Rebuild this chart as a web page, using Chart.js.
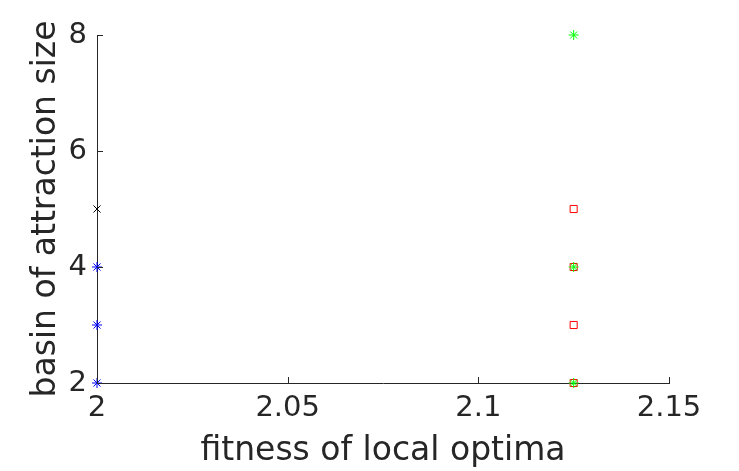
<!DOCTYPE html>
<html>
<head>
<meta charset="utf-8">
<script src="https://cdn.jsdelivr.net/npm/chart.js@4"></script>
<style>
  html, body { margin: 0; padding: 0; background: #fff; }
  #wrap { width: 739px; height: 471px; }
</style>
</head>
<body>
<div id="wrap"><canvas id="c" width="739" height="471"></canvas></div>
<script>
// values
const xTicks = [2, 2.05, 2.1, 2.15];
const yTicks = [2, 4, 6, 8];

const blackX = { x: [2], y: [5] };
const blueStar = { x: [2, 2, 2], y: [4, 3, 2] };
const redSquare = { x: [2.125, 2.125, 2.125, 2.125], y: [5, 4, 3, 2] };
const greenStar = { x: [2.125, 2.125, 2.125], y: [8, 4, 2] };

const axisColor = '#262626';

function toPoints(s) {
  return s.x.map((x, i) => ({ x: x, y: s.y[i] }));
}

// small inward tick marks like matlab draws them
const innerTicks = {
  id: 'innerTicks',
  afterDraw(chart) {
    const ctx = chart.ctx;
    const xs = chart.scales.x, ys = chart.scales.y;
    const a = chart.chartArea;
    ctx.save();
    ctx.strokeStyle = axisColor;
    ctx.lineWidth = 1;
    ctx.beginPath();
    xTicks.forEach(v => {
      const px = Math.round(xs.getPixelForValue(v)) + 0.5;
      ctx.moveTo(px, a.bottom);
      ctx.lineTo(px, a.bottom - 6);
    });
    yTicks.forEach(v => {
      const py = Math.round(ys.getPixelForValue(v)) + 0.5;
      ctx.moveTo(a.left, py);
      ctx.lineTo(a.left + 6, py);
    });
    ctx.stroke();
    ctx.restore();
  }
};

new Chart(document.getElementById('c'), {
  type: 'scatter',
  data: {
    datasets: [
      {
        label: 'green',
        data: toPoints(greenStar),
        pointStyle: 'star',
        pointRadius: 5,
        borderColor: '#00ff00',
        backgroundColor: 'transparent',
        pointBorderWidth: 1
      },
      {
        label: 'red',
        data: toPoints(redSquare),
        pointStyle: 'rect',
        pointRadius: 5,
        borderColor: '#ff0000',
        backgroundColor: 'transparent',
        pointBorderWidth: 1
      },
      {
        label: 'blue',
        data: toPoints(blueStar),
        pointStyle: 'star',
        pointRadius: 5,
        borderColor: '#0000ff',
        backgroundColor: 'transparent',
        pointBorderWidth: 1
      },
      {
        label: 'black',
        data: toPoints(blackX),
        pointStyle: 'crossRot',
        pointRadius: 5,
        borderColor: '#000000',
        backgroundColor: 'transparent',
        pointBorderWidth: 1
      }
    ]
  },
  options: {
    responsive: false,
    animation: false,
    clip: false,
    layout: { padding: { left: 0, right: 70, top: 35, bottom: 0 } },
    plugins: { legend: { display: false }, tooltip: { enabled: false } },
    scales: {
      x: {
        type: 'linear',
        min: 2,
        max: 2.15,
        afterBuildTicks: s => { s.ticks = xTicks.map(v => ({ value: v })); },
        afterFit: s => { s.height = 88; },
        grid: { display: true, drawOnChartArea: false, drawTicks: false, color: axisColor },
        border: { display: true, color: axisColor, width: 1 },
        ticks: {
          color: axisColor,
          padding: 8,
          font: { family: 'DejaVu Sans', size: 29 },
          maxRotation: 0,
          callback: v => String(v)
        },
        title: {
          display: true,
          text: 'fitness of local optima',
          color: axisColor,
          font: { family: 'DejaVu Sans', size: 33 },
          padding: { top: 0, bottom: 0 }
        }
      },
      y: {
        type: 'linear',
        min: 2,
        max: 8,
        afterBuildTicks: s => { s.ticks = yTicks.map(v => ({ value: v })); },
        afterFit: s => { s.width = 97; },
        grid: { display: true, drawOnChartArea: false, drawTicks: false, color: axisColor },
        border: { display: true, color: axisColor, width: 1 },
        ticks: {
          color: axisColor,
          padding: 10,
          font: { family: 'DejaVu Sans', size: 29 },
          callback: v => String(v)
        },
        title: {
          display: true,
          text: 'basin of attraction size',
          color: axisColor,
          font: { family: 'DejaVu Sans', size: 33 },
          padding: { top: 27, bottom: 0 }
        }
      }
    }
  },
  plugins: [innerTicks]
});
</script>
</body>
</html>
